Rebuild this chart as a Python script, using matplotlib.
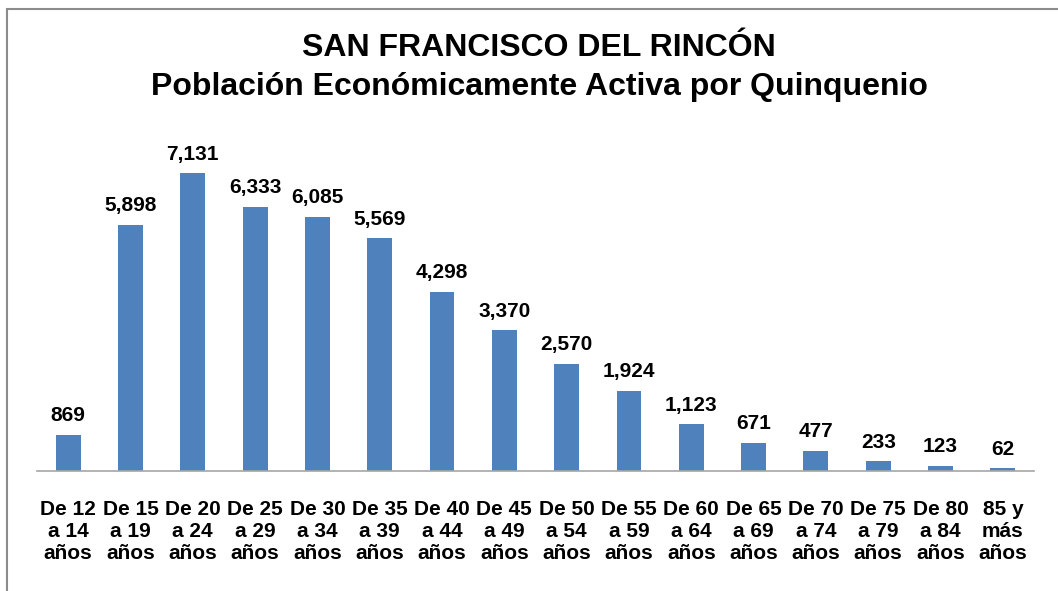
import matplotlib.pyplot as plt
from matplotlib.patches import Rectangle

plt.rcParams['font.family'] = ['Liberation Sans', 'DejaVu Sans']

categories = ["De 12\na 14\naños", "De 15\na 19\naños", "De 20\na 24\naños", "De 25\na 29\naños",
              "De 30\na 34\naños", "De 35\na 39\naños", "De 40\na 44\naños", "De 45\na 49\naños",
              "De 50\na 54\naños", "De 55\na 59\naños", "De 60\na 64\naños", "De 65\na 69\naños",
              "De 70\na 74\naños", "De 75\na 79\naños", "De 80\na 84\naños", "85 y\nmás\naños"]
values = [869, 5898, 7131, 6333, 6085, 5569, 4298, 3370, 2570, 1924, 1123, 671, 477, 233, 123, 62]

W, H = 1058, 591
fig = plt.figure(figsize=(W / 100, H / 100), dpi=100)

# chart border (only left/top visible in the reference)
fig.patches.append(Rectangle((7 / W, -0.1), 1.2, (H - 9) / H + 0.1, transform=fig.transFigure,
                             fill=False, edgecolor='#8c8c8c', linewidth=1.5))

ax = fig.add_axes([37 / W, (H - 471) / H, 997 / W, 334 / H])
x = range(len(values))
bars = ax.bar(x, values, width=0.4, color='#4F81BD')
ax.set_xlim(-0.5, len(values) - 0.5)
ax.set_ylim(0, 8000)

for b, v in zip(bars, values):
    ax.text(b.get_x() + b.get_width() / 2, v + 230, f"{v:,}", ha='center', va='bottom',
            fontsize=15, fontweight='bold')

ax.set_xticks(list(x))
ax.set_xticklabels(categories, fontsize=15, fontweight='bold', linespacing=1.2)
ax.tick_params(axis='x', length=0, pad=21)
ax.set_yticks([])
for s in ['top', 'right', 'left']:
    ax.spines[s].set_visible(False)
ax.spines['bottom'].set_color('#a6a6a6')
ax.spines['bottom'].set_linewidth(1.2)

fig.text(539 / W, 1 - 48 / H, "SAN FRANCISCO DEL RINCÓN", ha='center', va='center',
         fontsize=23, fontweight='bold')
fig.text(539 / W, 1 - 87 / H, "Población Económicamente Activa por Quinquenio", ha='center', va='center',
         fontsize=23, fontweight='bold')

fig.savefig("out.png", dpi=100)
